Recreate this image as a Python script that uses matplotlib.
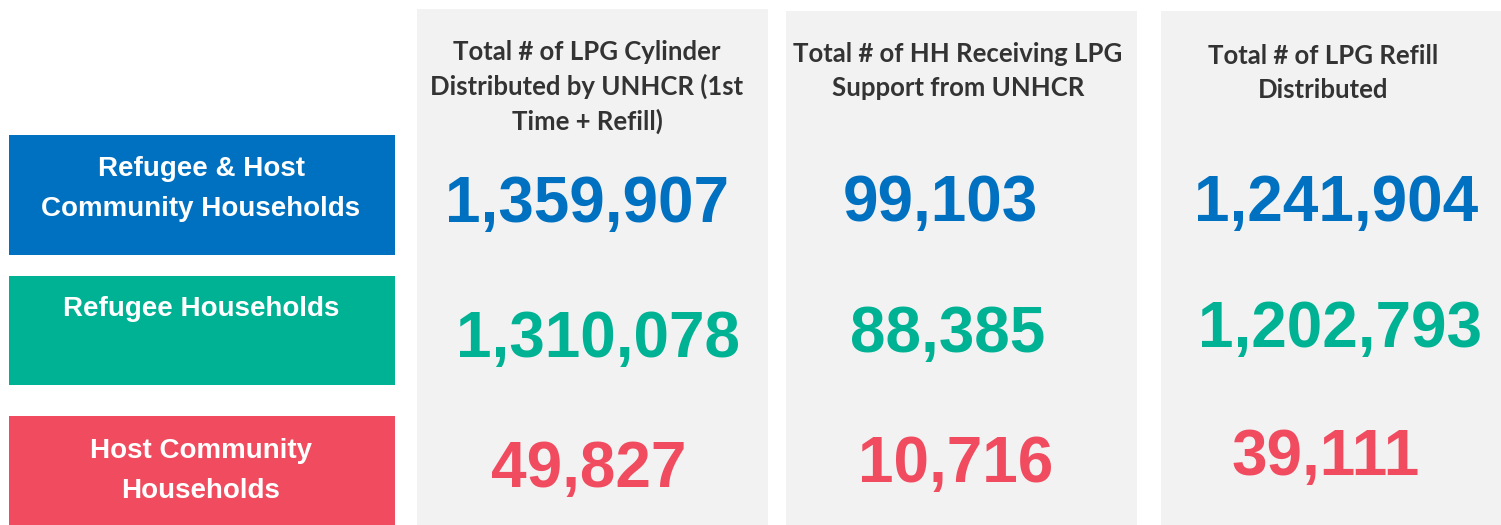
import matplotlib
matplotlib.use("Agg")
import matplotlib.pyplot as plt
from matplotlib.patches import Rectangle

groups = ["Refugee & Host\nCommunity Households", "Refugee Households", "Host Community\nHouseholds"]
group_colors = ["#0070C0", "#00B294", "#F04B5F"]
headers = ["Total # of LPG Cylinder\nDistributed by UNHCR (1st\nTime + Refill)",
           "Total # of HH Receiving LPG\nSupport from UNHCR",
           "Total # of LPG Refill\nDistributed"]
cylinders = [1359907, 1310078, 49827]
households = [99103, 88385, 10716]
refills = [1241904, 1202793, 39111]
columns = [cylinders, households, refills]

W, H = 1501, 525
fig = plt.figure(figsize=(W / 100, H / 100), dpi=100)
ax = fig.add_axes([0, 0, 1, 1])
ax.set_xlim(0, W)
ax.set_ylim(H, 0)
ax.axis("off")

# left label boxes
box_y = [(135, 255), (276, 385), (416, 525)]
label_y = [189, 309, 471]
for g, c, (y0, y1), ly in zip(groups, group_colors, box_y, label_y):
    ax.add_patch(Rectangle((9, y0), 386, y1 - y0, color=c, lw=0))
    ax.text(201, ly, g, color="white", fontsize=20, fontweight="bold",
            family="Liberation Sans", ha="center", va="center", linespacing=1.7)

# grey panels with headers and numbers
panel_x = [(417, 768), (786, 1137), (1161, 1501)]
panel_top = [9, 11, 11]
header_x = [587, 958, 1323]
header_y = [87, 71, 73]
num_x = [[587, 598, 589], [940, 948, 956], [1336, 1340, 1326]]
num_base = [[222, 357, 487], [221, 352, 482], [221, 347, 475]]
for i, ((x0, x1), top) in enumerate(zip(panel_x, panel_top)):
    ax.add_patch(Rectangle((x0, top), x1 - x0, H - top, color="#F2F2F2", lw=0))
    ax.text(header_x[i], header_y[i], headers[i], color="#333333", fontsize=18.5,
            fontweight="bold", family="Lato", ha="center", va="center", linespacing=1.45)
    for j, v in enumerate(columns[i]):
        ax.text(num_x[i][j], num_base[i][j], f"{v:,}", color=group_colors[j], fontsize=46,
                fontweight="bold", family="Liberation Sans", ha="center", va="baseline")

fig.savefig("out.png", dpi=100)
